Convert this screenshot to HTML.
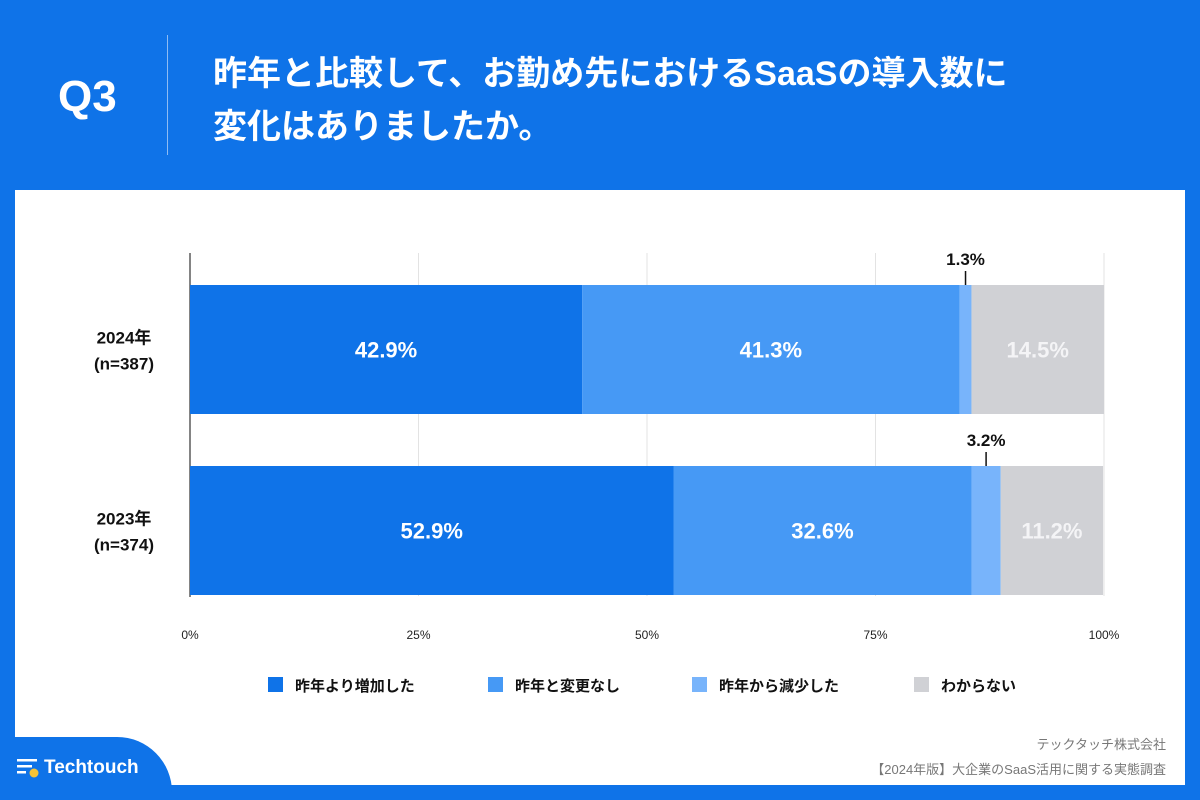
<!DOCTYPE html>
<html><head><meta charset="utf-8"><style>
html,body{margin:0;width:1200px;height:800px;overflow:hidden}
body{background:#0f73e8;position:relative;font-family:"Liberation Sans","Noto Sans CJK JP",sans-serif}
.panel{position:absolute;left:15px;top:190px;width:1170px;height:595px;background:#fff}
.t{position:absolute;color:#fff;font-weight:bold}
</style></head><body>
<div class="t" style="left:58px;top:72px;font-size:44px">Q3</div>
<div style="position:absolute;left:167px;top:35px;width:1px;height:120px;background:#8fbcf3"></div>
<div class="t" style="left:213px;top:48px;font-size:34px;line-height:53px">昨年と比較して、お勤め先におけるSaaSの導入数に<br>変化はありましたか。</div>
<div class="panel"></div>
<svg id="c" width="1200" height="800" style="position:absolute;left:0;top:0"></svg>
<div style="position:absolute;left:0;top:737px;width:172px;height:63px;background:#0f73e8;border-top-right-radius:55px"></div>
<div class="t" style="left:44px;top:757px;font-size:19px">Techtouch</div>
<svg style="position:absolute;left:17px;top:758px" width="24" height="20"><rect x="0" y="1" width="20" height="2.5" fill="#fff"/><rect x="0" y="7" width="15" height="2.5" fill="#fff"/><rect x="0" y="13" width="9" height="2.5" fill="#fff"/><circle cx="17" cy="15" r="4.5" fill="#f7c336"/></svg>
<div style="position:absolute;right:34px;top:734px;font-size:13px;color:#777">テックタッチ株式会社</div>
<div style="position:absolute;right:34px;top:759px;font-size:13px;color:#777">【2024年版】大企業のSaaS活用に関する実態調査</div>
<script>
const categories=["2024年","2023年"];
const nLabels=["(n=387)","(n=374)"];
const seriesNames=["昨年より増加した","昨年と変更なし","昨年から減少した","わからない"];
const increased=[42.9,52.9];
const unchanged=[41.3,32.6];
const decreased=[1.3,3.2];
const unknown=[14.5,11.2];
const ticks=[0,25,50,75,100];
const colors=["#0f73e8","#4699f5","#78b4fb","#d0d1d5"];
const svg=document.getElementById('c');const NS="http://www.w3.org/2000/svg";
function mk(t,a,p){const e=document.createElementNS(NS,t);for(const k in a)e.setAttribute(k,a[k]);(p||svg).appendChild(e);return e;}
const X0=190,X1=1104;const x=v=>X0+(X1-X0)*v/100;
const rowY=[285,466],BH=129;
ticks.forEach(t=>{
 const g=mk('line',{x1:x(t),x2:x(t),y1:253,y2:596,stroke:'#e3e3e3','stroke-width':1});
 
 
 const l=mk('text',{x:x(t),y:639,'text-anchor':'middle','font-size':12,fill:'#222'});l.textContent=t+'%';
 
 
});
const ax=mk('line',{x1:X0,x2:X0,y1:253,y2:597,stroke:'#333','stroke-width':1.2});


const series=[increased,unchanged,decreased,unknown];
categories.forEach((c,i)=>{
 let acc=0;const y=rowY[i];
 series.forEach((s,j)=>{
  const v=s[i];const r=mk('rect',{x:x(acc),y:y,width:x(acc+v)-x(acc),height:BH,fill:colors[j]});
  
  
  const cx=(x(acc)+x(acc+v))/2;
  if(j===2){
   const ln=mk('line',{x1:cx,x2:cx,y1:y-14,y2:y,stroke:'#111','stroke-width':1.5});
   
   
   const t=mk('text',{x:cx,y:y-20,'text-anchor':'middle','font-size':17,'font-weight':'bold',fill:'#111'});t.textContent=v+'%';
   
   
  }else{
   const t=mk('text',{x:cx,y:y+BH/2+8,'text-anchor':'middle','font-size':22,'font-weight':'bold',fill:j===3?'#f4f4f6':'#fff'});t.textContent=v+'%';
   
   
  }
  acc+=v;
 });
 const a=mk('text',{x:124,y:y+BH/2-6,'text-anchor':'middle','font-size':17,'font-weight':'bold',fill:'#111'});a.textContent=c;
 
 
 const b=mk('text',{x:124,y:y+BH/2+20,'text-anchor':'middle','font-size':17,'font-weight':'bold',fill:'#111'});b.textContent=nLabels[i];
 
 
});
const lx=[268,488,692,914];
seriesNames.forEach((n,j)=>{
 const r=mk('rect',{x:lx[j],y:677,width:15,height:15,fill:colors[j]});
 
 
 const t=mk('text',{x:lx[j]+27,y:691,'font-size':15,'font-weight':'bold',fill:'#111'});t.textContent=n;
 
 
});
</script>
</body></html>
